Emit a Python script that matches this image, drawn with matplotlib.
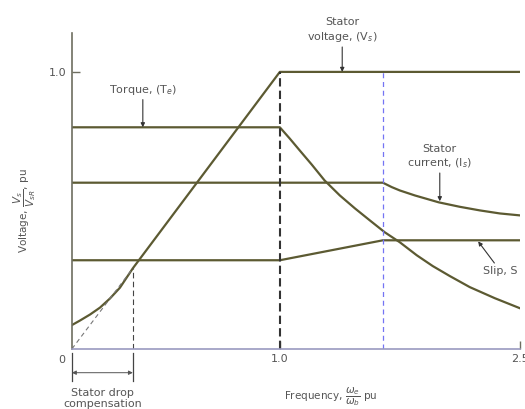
import numpy as np
import matplotlib
matplotlib.use('Agg')
import matplotlib.pyplot as plt

# values (frequency in pu, quantities in pu)
drop_freq = 0.293          # end of stator drop compensation
base_freq = 1.0
field_weak_freq = 1.644    # where current limit starts falling

volt_x = [0.0, 0.038, 0.087, 0.135, 0.183, 0.231, 0.293, 1.0, 2.5]
volt_y = [0.086, 0.102, 0.124, 0.149, 0.182, 0.221, 0.291, 1.0, 1.0]

torque_x = [0.0, 1.0, 1.0625, 1.125, 1.2, 1.28, 1.375, 1.47, 1.5625, 1.656,
            1.75, 1.856, 1.956, 2.0625, 2.1875, 2.344, 2.5]
torque_y = [0.80, 0.80, 0.759, 0.716, 0.665, 0.608, 0.554, 0.507, 0.464, 0.421,
            0.385, 0.338, 0.299, 0.263, 0.223, 0.183, 0.147]

current_x = [0.0, 1.644, 1.70, 1.75, 1.844, 1.994, 2.125, 2.25, 2.375, 2.5]
current_y = [0.60, 0.60, 0.584, 0.572, 0.554, 0.529, 0.513, 0.50, 0.489, 0.482]

slip_x = [0.0, 1.0, 1.644, 2.5]
slip_y = [0.32, 0.32, 0.392, 0.392]

line_col = '#5c5a32'
text_col = '#555555'


# the sketch is not to scale: 0..1 and 1..2.5 have different widths
def fwd(x):
    x = np.asarray(x, dtype=float)
    return np.where(x <= 1, x * 208, 208 + (x - 1) * 160)


def inv(p):
    p = np.asarray(p, dtype=float)
    return np.where(p <= 208, p / 208, 1 + (p - 208) / 160)


fig = plt.figure(figsize=(5.25, 4.09), dpi=100)
ax = fig.add_axes([0.137, 0.147, 0.853, 0.772])
ax.set_xscale('function', functions=(fwd, inv))
ax.set_xlim(0, 2.5)
ax.set_ylim(0, 1.14)

for xs, ys in [(volt_x, volt_y), (torque_x, torque_y),
               (current_x, current_y), (slip_x, slip_y)]:
    ax.plot(xs, ys, color=line_col, lw=1.6, solid_joinstyle='round')

# guide lines
ax.plot([0, drop_freq], [0, volt_y[6]], color='#777777', lw=0.8, ls=(0, (4, 3)))
ax.plot([drop_freq, drop_freq], [0, volt_y[6]], color='#444444', lw=0.8, ls=(0, (5, 3)))
ax.plot([base_freq, base_freq], [0, 1.0], color='#333333', lw=1.5, ls=(0, (4, 2)))
ax.plot([field_weak_freq, field_weak_freq], [0, 1.0], color='#7474f4', lw=0.9, ls=(0, (4, 3)))

# axes styling
for s in ['top', 'right']:
    ax.spines[s].set_visible(False)
ax.spines['left'].set_color('#6e6e60')
ax.spines['bottom'].set_color('#9a9ac0')
ax.spines['left'].set_linewidth(1.2)
ax.spines['bottom'].set_linewidth(1.2)

ax.set_yticks([1.0])
ax.set_yticklabels(['1.0'])
ax.set_xticks([1.0, 2.5])
ax.set_xticklabels(['1.0', '2.5'])
ax.tick_params(direction='in', length=6, width=1, colors='#6e6e60',
               labelcolor=text_col, labelsize=8, pad=4)
ax.text(-0.03, -0.04, '0', ha='right', va='center', fontsize=8,
        color=text_col, clip_on=False)

ax.text(-0.105, 0.437, r'Voltage, $\dfrac{V_s}{V_{sR}}$, pu', rotation=90,
        ha='center', va='center', fontsize=7.5, color=text_col,
        transform=ax.transAxes)
fig.text(0.63, 0.03, r'Frequency, $\dfrac{\omega_e}{\omega_b}$ pu', ha='center',
         va='center', fontsize=7.5, color=text_col)

# stator drop compensation marker
for xv in [0.0, drop_freq]:
    ax.plot([xv, xv], [-0.014, -0.115], color='#444444', lw=0.9, clip_on=False)
ax.annotate('', xy=(0.0, -0.086), xytext=(drop_freq, -0.086),
            arrowprops=dict(arrowstyle='<|-|>', color='#555555', lw=0.7,
                            mutation_scale=6, shrinkA=0, shrinkB=0),
            annotation_clip=False)
ax.text(drop_freq / 2, -0.14, 'Stator drop\ncompensation', ha='center', va='top',
        fontsize=8, color=text_col, linespacing=1.2, clip_on=False)

arrow = dict(arrowstyle='-|>', color='#333333', lw=0.8, mutation_scale=6,
             shrinkA=0, shrinkB=0)
ax.annotate('Stator\nvoltage, (V$_s$)', xy=(1.39, 1.0), xytext=(1.39, 1.10),
            ha='center', va='bottom', fontsize=8, color=text_col,
            arrowprops=arrow, annotation_clip=False, linespacing=1.3)
ax.annotate('Torque, (T$_e$)', xy=(0.341, 0.80), xytext=(0.341, 0.91),
            ha='center', va='bottom', fontsize=8, color=text_col,
            arrowprops=arrow, annotation_clip=False)
ax.annotate('Stator\ncurrent, (I$_s$)', xy=(2.0, 0.533), xytext=(2.0, 0.645),
            ha='center', va='bottom', fontsize=8, color=text_col,
            arrowprops=arrow, annotation_clip=False, linespacing=1.3)
ax.annotate('Slip, S', xy=(2.24, 0.388), xytext=(2.27, 0.30),
            ha='left', va='top', fontsize=8, color=text_col,
            arrowprops=arrow, annotation_clip=False)

fig.savefig('out.png', dpi=100)
